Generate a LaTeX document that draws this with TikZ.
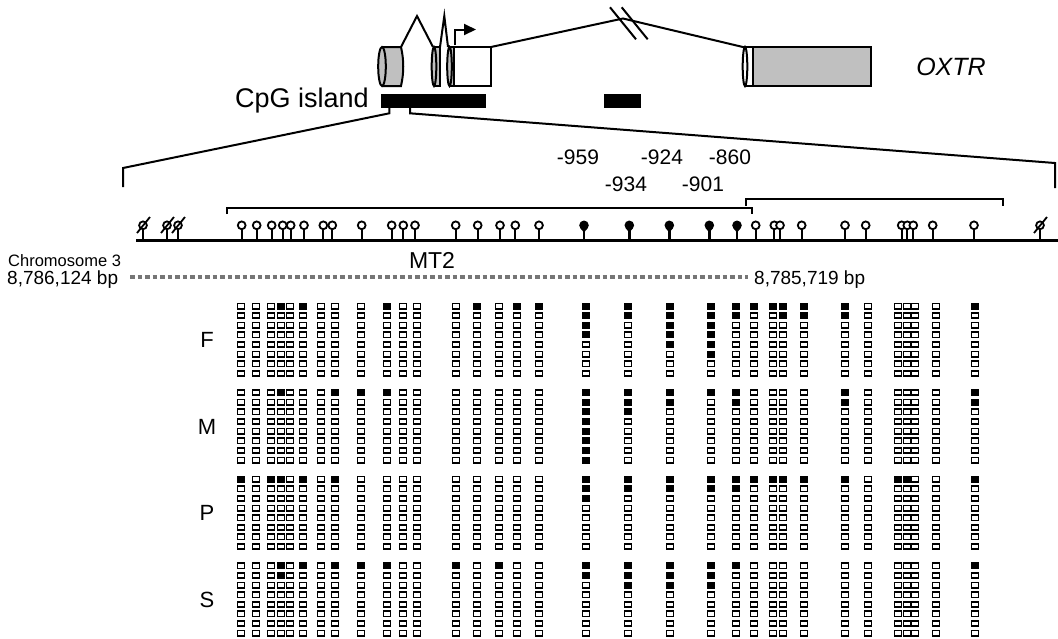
\documentclass[tikz,border=0pt]{standalone}
\usepackage{fontspec}
\setmainfont{Liberation Sans}
\usetikzlibrary{arrows.meta}
\definecolor{exgray}{HTML}{C0C0C0}
\definecolor{dashgray}{HTML}{767676}
\newcount\mrow
\def\mcolloop#1{%
  \ifx\relax#1\else
    \pgfmathsetmacro\myy{\my+\the\mrow*9.63}%
    \if1#1\fill (\mx-4.3,\myy-3.5) rectangle (\mx+4.3,\myy+3.5);%
    \else\draw[line width=1.7] (\mx-3.45,\myy-2.65) rectangle (\mx+3.45,\myy+2.65);\fi
    \global\advance\mrow by 1
    \expandafter\mcolloop
  \fi}
\newcommand\mcol[3]{\def\mx{#1}\def\my{#2}\global\mrow=0 \expandafter\mcolloop#3\relax}
\newcommand\mgroup[2]{\foreach \cx/\pp in {#2} {\mcol{\cx}{#1}{\pp}}}
\begin{document}
\begin{tikzpicture}[x=1pt,y=-1pt,line join=miter,
  txt/.style={inner sep=0pt,font=\fontsize{#1}{#1}\selectfont},
  gl/.style={line width=2pt},
  stem/.style={line width=2pt},
  bead/.style={line width=1.8pt,fill=white}]
\useasboundingbox (0,0) rectangle (1058,638);
% ---------------- gene structure ----------------
% exon 1
\fill[exgray] (382,47) -- (401,47) .. controls (404,60) and (404,73) .. (401,86) -- (382,86) -- cycle;
\draw[gl] (382,47) -- (401,47) .. controls (404,60) and (404,73) .. (401,86) -- (382,86);
\draw[gl,fill=exgray] (382,66.5) ellipse (3.8 and 19.5);
% exon 2
\fill[exgray] (434,47) rectangle (440,86);
\draw[gl] (434,47) -- (440,47) -- (440,86) -- (434,86);
\draw[gl,fill=exgray] (434,66.5) ellipse (2.3 and 19.5);
% exon 3
\fill[exgray] (449.5,47) rectangle (454,86);
\draw[gl,fill=white] (454,47) rectangle (491,86);
\draw[gl] (449.5,47) -- (454,47) (449.5,86) -- (454,86);
\draw[gl,fill=exgray] (449.5,66.5) ellipse (2.3 and 19.5);
% last exon
\draw[gl,fill=exgray] (752.7,47) rectangle (871,86);
\draw[gl,fill=white] (745,47) rectangle (752.7,86);
\draw[gl,fill=white] (745,66.5) ellipse (2.3 and 19.5);
% introns
\draw[gl] (401,47) -- (417,16) -- (433,47);
\draw[gl] (440,47) -- (444.3,16) -- (448,47);
\draw[gl] (491,47) -- (623,18.5) -- (745,47.5);
\draw[gl] (610,7.3) -- (636,39.3);
\draw[gl] (621.7,7.3) -- (647.7,39.3);
% TSS arrow
\draw[line width=2pt,-{Triangle[length=12pt,width=11pt]}] (455,45) -- (455,29.5) -- (476,29.5);
\node[txt=25,font=\fontsize{25}{25}\selectfont\itshape] (oxtr) at (951,67) {OXTR};
% CpG islands
\fill (381,94) rectangle (486,107.7);
\fill (604,94) rectangle (641,107.7);
\node[txt=27,anchor=east] (cpg) at (369,101) {CpG island};
% zoom lines
\coordinate (zl) at (123,168);
\coordinate (zr) at (1055,163);
\draw[gl] (389.3,107.7) -- (389.3,113.3) -- (zl) -- (123,187);
\draw[gl] (410,107.7) -- (410,113.3) -- (zr) -- (1055,188);
% ---------------- CpG map ----------------
\node[txt=21] (n959) at (578,157) {-959};
\node[txt=21] (n924) at (662,157) {-924};
\node[txt=21] (n860) at (730,157) {-860};
\node[txt=21] (n934) at (626,184) {-934};
\node[txt=21] (n901) at (703,184) {-901};
\draw[line width=2pt] (227,214) -- (227,208.3) -- (752,208.3) -- (752,214);
\draw[line width=2pt] (746,205.5) -- (746,198.5) -- (1003,198.5) -- (1003,205.5);
\draw[line width=3pt] (136,240) -- (1058,240);
\foreach \x in {143,167,178,1040,241.7,256.7,271.7,282.7,290.7,304,323.3,332.3,361.7,391.7,403.3,415,455.7,477.7,500,515.3,539,755.7,774.3,780,801.7,845,865.7,901.7,907.3,913.3,932.7,974}
  {\draw[stem] (\x,240) -- (\x,229);
   \draw[bead] (\x,225.3) circle (3.9);}
\foreach \x in {143,167,178,1040}
  {\draw[line width=1.8pt] (\x-6,233) -- (\x+7,217);}
\foreach \x in {584,629.3,669.3,709.3,737}
  {\draw[line width=2.6pt] (\x,240) -- (\x,228);
   \fill (\x,225.3) circle (4.8);
   \fill (\x-3.4,228.5) -- (\x+3.4,228.5) -- (\x,232.5) -- cycle;}
\node[txt=16.5,anchor=base west] (chr) at (8,266.5) {Chromosome 3};
\node[txt=19,anchor=base west] (bp1) at (7,284) {8,786,124 bp};
\node[txt=23] (mt2) at (432,260.5) {MT2};
\node[txt=19,anchor=base west] (bp2) at (754,284) {8,785,719 bp};
\draw[dashgray,line width=4.5pt,dash pattern=on 4.5pt off 3pt] (130,277) -- (748,277);
% ---------------- methylation patterns ----------------
\node[txt=22] (gF) at (207,340) {F};
\node[txt=22] (gM) at (207,426.5) {M};
\node[txt=22] (gP) at (207,513) {P};
\node[txt=22] (gS) at (207,599.5) {S};
\mgroup{306}{241/00000000,256/00000000,271/00000000,281/10000000,290/00000000,303/10000000,321/00000000,335/00000000,361/00000000,387/10000000,403/00000000,417/00000000,456/00000000,477/10000000,499/00000000,517/10000000,539/10000000,586/11110000,628/11000000,670/11111000,711/11111100,736/11000000,754/10000000,773/10000000,783/11000000,804/11000000,845/11000000,868/00000000,898/00000000,907/00000000,915/00000000,936/00000000,975/10000000}
\mgroup{392.6}{241/00000000,256/00000000,271/00000000,281/10000000,290/00000000,303/00000000,321/00000000,335/10000000,361/10000000,387/10000000,403/00000000,417/00000000,456/00000000,477/00000000,499/00000000,517/00000000,539/00000000,586/11111111,628/11100000,670/11000000,711/10000000,736/11000000,754/00000000,773/00000000,783/00000000,804/00000000,845/11000000,868/00000000,898/00000000,907/00000000,915/00000000,936/00000000,975/11000000}
\mgroup{479.2}{241/10000000,256/00000000,271/10000000,281/10000000,290/00000000,303/10000000,321/00000000,335/10000000,361/00000000,387/00000000,403/00000000,417/00000000,456/00000000,477/00000000,499/00000000,517/00000000,539/00000000,586/11100000,628/11000000,670/11000000,711/11000000,736/11000000,754/10000000,773/10000000,783/10000000,804/10000000,845/10000000,868/00000000,898/10000000,907/10000000,915/00000000,936/00000000,975/10000000}
\mgroup{565.8}{241/00000000,256/00000000,271/00000000,281/11000000,290/00000000,303/10000000,321/00000000,335/10000000,361/10000000,387/10000000,403/00000000,417/00000000,456/10000000,477/00000000,499/10000000,517/00000000,539/00000000,586/11000000,628/11100000,670/11100000,711/11100000,736/10000000,754/00000000,773/00000000,783/00000000,804/00000000,845/00000000,868/00000000,898/00000000,907/00000000,915/00000000,936/00000000,975/10000000}
\end{tikzpicture}
\end{document}
